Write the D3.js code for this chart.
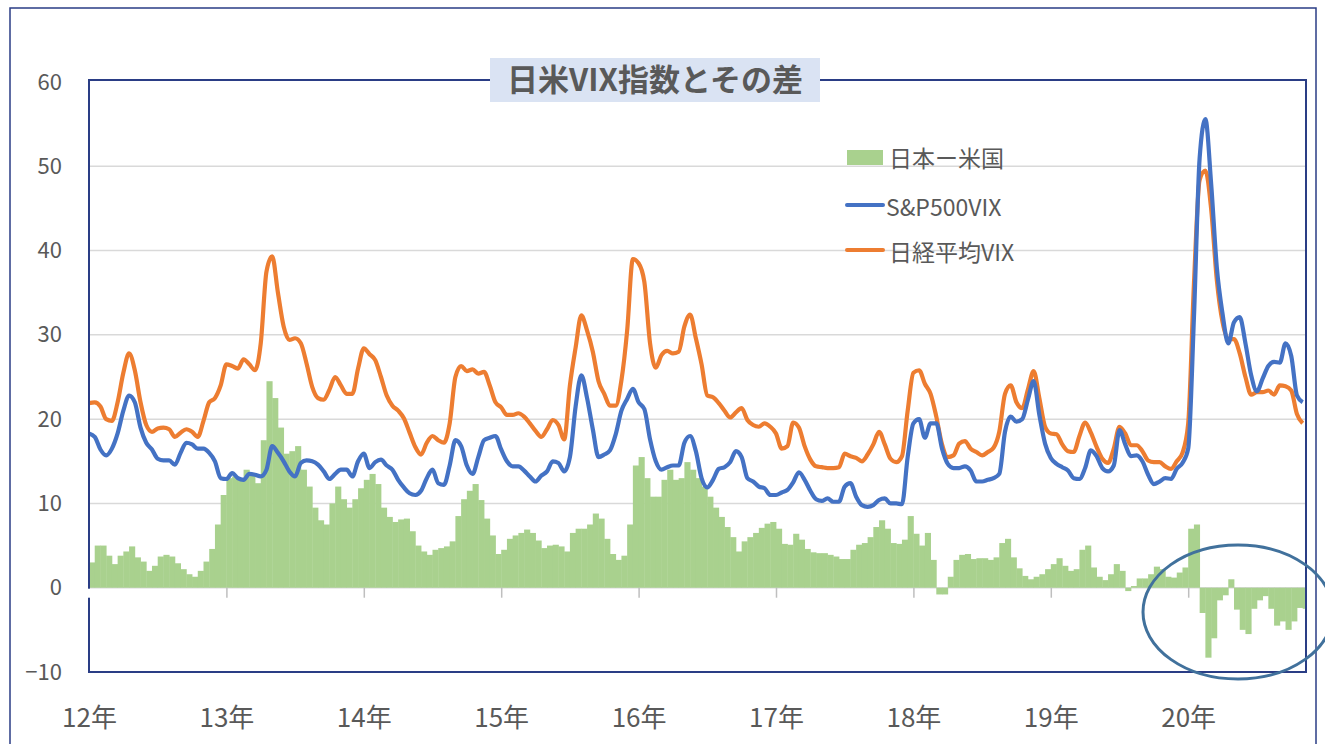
<!DOCTYPE html>
<html>
<head>
<meta charset="utf-8">
<script src="https://cdn.jsdelivr.net/npm/d3@7"></script>
<style>
  body { margin: 0; background: #fff; }
  text { font-family: "Noto Sans CJK JP", "Noto Sans", sans-serif; }
</style>
</head>
<body>
<svg id="chart" width="1325" height="744"></svg>
<script>
// semi-monthly readings, first point = Jan 2012
var startYear = 2012
var perYear = 24

var nikkeiVix = [
  21.9,22.0,21.5,20.0,19.8,22.0,25.5,27.8,25.8,22.0,19.3,18.5,18.9,19.0,18.8,17.9,18.4,18.8,18.5,17.9,19.8,22.0,22.5,24.0,
  26.5,26.3,26.0,27.1,26.5,25.8,29.0,37.5,39.3,35.0,31.0,29.4,29.6,29.0,26.6,23.8,22.5,22.3,23.5,25.0,24.0,23.0,23.0,26.0,
  28.4,27.7,27.0,25.0,22.8,21.6,21.0,20.1,18.4,16.7,15.8,17.2,18.0,17.5,17.2,19.5,25.0,26.3,25.7,25.9,25.4,25.6,24.0,22.0,
  21.4,20.5,20.5,20.7,20.3,19.5,18.6,17.9,18.8,19.9,19.3,17.6,24.0,28.5,32.3,30.5,28.0,24.5,23.0,21.6,21.6,24.6,30.5,39.0,
  38.5,36.3,29.0,26.1,27.6,28.1,27.8,28.0,31.0,32.4,29.6,26.5,22.8,22.6,21.9,21.0,20.2,20.8,21.3,19.9,19.3,19.1,19.5,19.1,
  18.3,16.5,16.8,19.6,19.0,16.8,15.2,14.4,14.3,14.2,14.2,14.3,15.9,15.6,15.4,15.0,15.8,17.0,18.5,17.0,15.3,14.9,15.6,21.0,
  25.5,25.8,24.2,23.0,20.3,17.0,15.5,15.7,17.1,17.4,16.5,16.1,15.7,16.1,16.6,18.5,23.0,24.0,22.0,21.3,23.5,25.7,22.5,19.1,
  18.3,18.2,17.0,16.2,16.1,18.0,19.6,18.4,16.7,15.3,14.8,16.5,19.1,18.3,16.9,16.9,16.2,15.1,14.9,14.9,14.4,14.1,15.0,16.0,
  19.5,36.0,48.4,49.5,45.0,36.5,31.5,29.5,29.5,27.8,25.0,22.9,23.2,23.2,23.4,22.9,24.0,23.9,23.4,20.6,19.5
]

var spVix = [
  18.3,17.9,16.4,15.7,16.5,18.3,21.0,22.8,22.0,19.0,17.2,16.4,15.3,15.1,15.1,14.6,16.0,17.2,17.0,16.5,16.5,16.0,15.0,13.0,
  12.9,13.6,13.0,12.8,13.5,13.4,13.2,14.0,16.8,16.0,15.0,13.8,13.2,14.8,15.1,15.0,14.6,13.8,12.9,13.5,14.0,14.0,13.2,15.0,
  15.9,14.2,14.9,15.2,14.5,14.0,12.8,11.9,11.2,11.0,11.5,13.0,14.0,12.4,12.2,14.5,17.5,16.8,14.5,13.5,15.5,17.5,17.8,18.0,
  16.4,15.0,14.4,14.4,13.9,13.2,12.6,13.3,13.8,15.0,14.8,13.8,15.5,21.5,25.2,22.5,18.8,15.5,15.8,16.3,18.2,21.0,22.4,23.6,
  22.0,21.2,17.6,15.0,14.0,14.3,14.5,14.5,17.2,18.0,16.2,13.0,11.9,12.8,14.1,14.3,14.9,16.2,15.5,13.0,12.6,12.0,11.8,11.0,
  11.0,11.3,11.6,12.5,13.7,12.8,11.5,10.5,10.3,10.6,10.2,10.2,12.0,12.4,10.8,9.8,9.6,9.8,10.4,10.6,10.0,10.0,9.9,15.5,
  19.5,20.0,17.8,19.5,19.5,16.5,14.7,14.2,14.2,14.4,13.9,12.6,12.6,12.8,13.0,13.5,18.5,20.3,19.7,20.0,22.3,24.5,20.5,17.1,
  15.4,14.7,14.3,13.9,13.0,12.9,14.2,16.3,15.6,14.2,13.8,14.5,18.7,17.0,15.6,15.7,15.0,13.4,12.3,12.6,13.0,12.9,14.1,14.8,
  16.5,32.0,51.0,55.6,48.0,38.0,32.5,29.0,31.5,32.1,29.0,25.2,23.3,24.8,26.3,26.8,26.7,29.0,27.5,22.8,22.0
]

// 日本ー米国 bars
var diffJpUs = [
  3.0,5.0,5.0,3.8,2.8,3.8,4.3,4.9,3.6,3.1,2.0,2.6,3.7,3.9,3.7,2.9,2.2,1.6,1.3,2.0,3.1,4.6,7.5,11.0,
  13.0,13.2,13.0,14.0,13.4,12.4,17.5,24.5,22.5,19.0,15.9,16.2,16.8,14.0,12.0,9.5,8.0,7.5,10.0,12.0,10.5,9.5,10.5,11.8,
  12.8,13.5,12.3,9.5,8.4,7.8,8.1,8.2,6.7,5.0,4.3,3.9,4.5,4.7,4.9,5.5,8.5,10.5,11.5,12.3,10.4,8.2,6.2,4.0,
  4.5,5.8,6.2,6.5,6.9,6.5,5.6,4.7,5.0,5.1,4.9,4.3,6.5,7.0,7.0,7.5,8.8,8.2,5.8,4.0,3.3,3.8,7.5,14.5,
  15.5,13.0,10.8,10.8,12.8,14.0,12.8,13.0,14.9,14.0,13.0,12.0,10.8,9.5,8.4,7.2,6.0,4.3,5.5,6.0,6.5,7.1,7.6,7.8,
  7.0,5.2,5.1,6.4,5.7,4.6,4.2,4.1,4.1,3.9,3.7,3.4,3.4,4.5,5.1,5.3,6.0,7.2,8.0,7.0,5.3,5.2,5.7,8.5,
  6.4,5.0,6.5,3.3,-0.8,-0.8,1.3,3.3,3.9,4.0,3.4,3.5,3.5,3.3,3.6,5.3,5.8,3.6,2.3,1.4,1.0,1.3,1.6,2.2,
  2.8,3.5,2.6,2.0,2.2,4.5,5.0,2.4,1.3,0.9,1.6,2.8,2.0,-0.4,0.2,1.1,1.1,1.6,2.5,2.2,1.3,1.2,1.8,2.4,
  7.0,7.5,-3.0,-8.3,-6.0,-1.5,-0.9,1.0,-2.6,-5.0,-5.5,-2.5,-1.5,-1.0,-2.5,-4.5,-4.0,-5.0,-4.0,-2.4,-2.5
]

var yearTicks = [2012, 2013, 2014, 2015, 2016, 2017, 2018, 2019, 2020]
var yearLabels = ["12年", "13年", "14年", "15年", "16年", "17年", "18年", "19年", "20年"]
var yTicks = [-10, 0, 10, 20, 30, 40, 50, 60]
var legendNames = ["日本ー米国", "S&P500VIX", "日経平均VIX"]
var title = "日米VIX指数とその差"

var blue = "#4472c4", orange = "#ed7d31", green = "#a9d18e"
var navy = "#2a3d85", grey = "#595959"

var svg = d3.select('#chart')
var plotL = 89, plotR = 1306, plotT = 82, plotB = 672

var x = d3.scaleLinear().domain([2012, 2012 + (plotR - plotL) / 137.4]).range([plotL, plotR])
var y = d3.scaleLinear().domain([-10, 60]).range([plotB, plotT])
var t = i => startYear + i / perYear
var step = x(t(1)) - x(t(0))

svg.append("rect").attr("width", 1325).attr("height", 744).attr("fill", "#fff")

// outer frame
svg.append("rect")
  .attr("x", 10).attr("y", 8).attr("width", 1306).attr("height", 760)
  .attr("fill", "none").attr("stroke", navy).attr("stroke-width", 1.5)

svg.append("clipPath").attr("id", "plotClip")
  .append("rect").attr("x", plotL).attr("y", plotT).attr("width", plotR - plotL).attr("height", plotB - plotT)

// gridlines
svg.append("g")
  .selectAll("line")
  .data(yTicks.filter(v => v > -10 && v < 60))
  .join("line")
  .attr("x1", plotL).attr("x2", plotR)
  .attr("y1", d => y(d)).attr("y2", d => y(d))
  .attr("stroke", "#d9d9d9").attr("stroke-width", 1.5)

// bars
svg.append("g")
  .attr("clip-path", "url(#plotClip)")
  .selectAll("rect")
  .data(diffJpUs)
  .join("rect")
  .attr("x", (d, i) => x(t(i)))
  .attr("width", step + 0.4)
  .attr("y", d => y(Math.max(0, d)))
  .attr("height", d => Math.abs(y(d) - y(0)))
  .attr("fill", green)

// year tick marks on the zero line
var tickAxis = svg.append("g")
  .attr("transform", "translate(0," + y(0) + ")")
  .call(d3.axisBottom(x).tickValues(yearTicks.slice(1)).tickSize(10).tickFormat(""))
tickAxis.select(".domain").remove()
tickAxis.selectAll("line").attr("stroke", "#bfbfbf").attr("stroke-width", 1.5)

// lines
var line = d3.line()
  .x((d, i) => x(t(i)))
  .y(d => y(d))
  .curve(d3.curveMonotoneX)

svg.append("path").datum(nikkeiVix)
  .attr("d", line).attr("fill", "none")
  .attr("stroke", orange).attr("stroke-width", 4.2).attr("stroke-linejoin", "round")

svg.append("path").datum(spVix)
  .attr("d", line).attr("fill", "none")
  .attr("stroke", blue).attr("stroke-width", 4.2).attr("stroke-linejoin", "round")

// plot frame
svg.append("rect")
  .attr("x", plotL).attr("y", plotT - 2).attr("width", plotR - plotL).attr("height", plotB - plotT + 2)
  .attr("fill", "none").attr("stroke", navy).attr("stroke-width", 2)

// small gap in the left axis just under the zero line, as in the source
svg.append("line")
  .attr("x1", plotL).attr("x2", plotL).attr("y1", y(0) + 1).attr("y2", y(0) + 10)
  .attr("stroke", "#fff").attr("stroke-width", 3)

// y labels
var yAxis = svg.append("g")
  .attr("transform", "translate(" + (plotL - 27) + ",0)")
  .call(d3.axisLeft(y).tickValues(yTicks).tickSize(0).tickPadding(0))
yAxis.select(".domain").remove()
yAxis.selectAll("text")
  .attr("fill", grey).attr("font-size", 22)
  .style("font-family", '"Noto Sans CJK JP", sans-serif')

// x labels
var xAxis = svg.append("g")
  .attr("transform", "translate(0,718)")
  .call(d3.axisBottom(x).tickValues(yearTicks).tickSize(0).tickFormat((d, i) => yearLabels[i]))
xAxis.select(".domain").remove()
xAxis.selectAll("text")
  .attr("y", 0).attr("dy", "0.35em")
  .attr("fill", grey).attr("font-size", 26)
  .style("font-family", '"Noto Sans CJK JP", sans-serif')

// title
svg.append("rect")
  .attr("x", 490).attr("y", 58).attr("width", 330).attr("height", 44)
  .attr("fill", "#dae3f3")
svg.append("text")
  .attr("x", 655).attr("y", 77)
  .attr("text-anchor", "middle").attr("dominant-baseline", "central")
  .attr("font-size", 31).attr("font-weight", "bold").attr("fill", grey)
  .text(title)

// legend
var lg = svg.append("g").attr("transform", "translate(847,0)")
lg.append("rect").attr("x", 0).attr("y", 150).attr("width", 36).attr("height", 15).attr("fill", green)
lg.append("line").attr("x1", 0).attr("x2", 36).attr("y1", 205).attr("y2", 205)
  .attr("stroke", blue).attr("stroke-width", 4).attr("stroke-linecap", "round")
lg.append("line").attr("x1", 0).attr("x2", 36).attr("y1", 250).attr("y2", 250)
  .attr("stroke", orange).attr("stroke-width", 4).attr("stroke-linecap", "round")
lg.selectAll("text")
  .data(legendNames)
  .join("text")
  .attr("x", (d, i) => i == 1 ? 39 : 42)
  .attr("y", (d, i) => [157, 206, 251][i])
  .attr("dominant-baseline", "central")
  .attr("font-size", 23).attr("fill", grey)
  .text(d => d)

// annotation ellipse around the 2020 negative gap
svg.append("ellipse")
  .attr("cx", 1238).attr("cy", 612).attr("rx", 95).attr("ry", 67)
  .attr("fill", "none").attr("stroke", "#41719c").attr("stroke-width", 3)
</script>
</body>
</html>
